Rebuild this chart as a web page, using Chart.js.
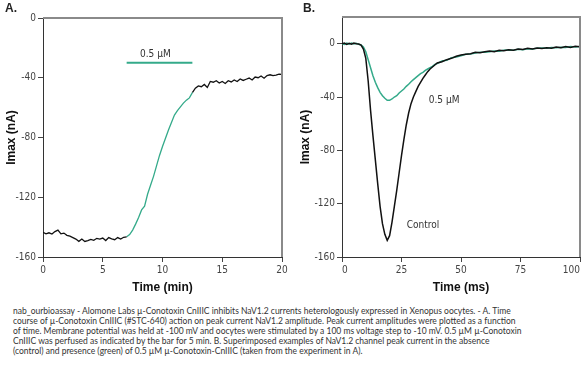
<!DOCTYPE html>
<html>
<head>
<meta charset="utf-8">
<script src="https://cdn.jsdelivr.net/npm/chart.js@4.4.1/dist/chart.umd.min.js"></script>
<style>
    body { margin: 0; background: #fff; width: 583px; height: 368px; position: relative; overflow: hidden; }
    .panel { position: absolute; top: 0; height: 296px; }
    .tag { position: absolute; top: 1px; font: bold 12px Arial, 'Liberation Sans', sans-serif; color: #222; }
    #caption { position: absolute; left: 13px; top: 307px; font: 8.5px Lato, sans-serif; line-height: 9.9px; color: #333; white-space: nowrap; }
</style>
</head>
<body>
<div class="panel" style="left:0;width:290px"><canvas id="graph"></canvas></div>
<div class="panel" style="left:290px;width:293px"><canvas id="graph_2"></canvas></div>
<div class="tag" style="left:5px">A.</div>
<div class="tag" style="left:303px">B.</div>
<div id="caption">
nab_ourbioassay - Alomone Labs µ-Conotoxin CnIIIC inhibits NaV1.2 currents heterologously expressed in Xenopus oocytes. - A. Time<br>
course of µ-Conotoxin CnIIIC (#STC-640) action on peak current NaV1.2 amplitude. Peak current amplitudes were plotted as a function<br>
of time. Membrane potential was held at -100 mV and oocytes were stimulated by a 100 ms voltage step to -10 mV. 0.5 µM µ-Conotoxin<br>
CnIIIC was perfused as indicated by the bar for 5 min. B. Superimposed examples of NaV1.2 channel peak current in the absence<br>
(control) and presence (green) of 0.5 µM µ-Conotoxin-CnIIIC (taken from the experiment in A).
</div>
<script>
// Panel A: peak current vs time (min)
const timeBefore = [0, 0.25, 0.5, 0.75, 1, 1.25, 1.5, 1.75, 2, 2.25, 2.5, 2.75, 3, 3.25, 3.5, 3.75, 4, 4.25, 4.5, 4.75, 5, 5.25, 5.5, 5.75, 6, 6.25, 6.5, 6.75, 7];
const imaxBefore = [-143.5, -144.5, -143.8, -144.6, -143, -142, -144.5, -144, -145.5, -146, -147, -148, -149.5, -148, -149.6, -149, -148.2, -148.8, -147.5, -148, -147.3, -149, -147, -147.8, -148.4, -147, -148, -146.8, -146.5];
const timeToxin = [7, 7.25, 7.5, 7.75, 8, 8.25, 8.5, 8.75, 9, 9.25, 9.5, 9.75, 10, 10.25, 10.5, 10.75, 11, 11.25, 11.5, 11.75, 12, 12.25, 12.5];
const imaxToxin = [-146.5, -145, -142, -138, -133.5, -128.5, -126, -118, -112, -106, -99, -92, -86, -80.5, -75, -70, -65, -62, -59.5, -57, -55, -53.5, -50];
const timeAfter = [12.5, 12.75, 13, 13.25, 13.5, 13.75, 14, 14.25, 14.5, 14.75, 15, 15.25, 15.5, 15.75, 16, 16.25, 16.5, 16.75, 17, 17.25, 17.5, 17.75, 18, 18.25, 18.5, 18.75, 19, 19.25, 19.5, 19.75, 20];
const imaxAfter = [-50, -47, -45.5, -46, -44.5, -46.5, -42.5, -43, -42, -43.5, -42.5, -43.8, -42, -42.8, -41.5, -42.5, -40.8, -41.8, -41, -40.2, -41.5, -39.5, -40, -38.8, -40.3, -38.5, -38, -38.6, -38.2, -37.6, -37.8];
const perfusionBar = [7, 12.5];
const perfusionLevel = -30;
const xTicksA = [0, 5, 10, 15, 20];
const yTicksA = [-160, -120, -80, -40, 0];

// Panel B: current traces vs time (ms)
const traceTime = [0, 1, 2, 3, 4, 5, 6, 7, 8, 9, 10, 11, 12, 13, 14, 15, 16, 17, 18, 19, 20, 21, 22, 23, 24, 25, 26, 27, 28, 29, 30, 31, 32, 33, 34, 35, 36, 37, 38, 39, 40,
    42, 44, 46, 48, 50, 52, 54, 56, 58, 60, 62, 64, 66, 68, 70, 72, 74, 76, 78, 80, 82, 84, 86, 88, 90, 92, 94, 96, 98, 100];
const controlTrace = [0, 0.5, -0.5, 0.3, -0.4, 0.5, 0, -0.3, -1, -4, -11, -28, -50, -69, -87, -105, -122, -135, -143, -147.5, -144, -134, -122, -110, -97, -84, -72, -61, -52, -45, -40, -36, -32, -29, -26, -23.5, -21, -19, -17.5, -16, -14.5,
    -13.5, -12, -11, -9.5, -8.5, -8, -7.5, -6.5, -6.8, -6, -5.5, -6, -5, -5.3, -4.5, -5, -4, -4.4, -3.5, -4, -3.2, -3.6, -3, -3.4, -2.5, -3, -2.2, -2.8, -2, -2.4];
const toxinTrace = [0, -0.5, 0.4, -0.3, 0.5, -0.2, 0.3, -0.5, -1, -2.5, -6, -12, -18, -24, -29, -33, -36.5, -39, -41, -42.5, -42.5, -41.5, -40, -39, -37, -35.5, -34, -32, -30.5, -28.5, -27, -25.5, -24, -22.5, -21.5, -20, -19, -18, -17, -15.5, -15,
    -13, -12.5, -10.5, -10, -9, -8, -7.8, -7, -6.5, -6.5, -6, -5.5, -5.6, -5, -4.8, -5, -4.2, -4.5, -3.8, -4, -3.5, -3.2, -3.5, -2.8, -3, -2.6, -2.8, -2.2, -2.5, -2.2];
const xTicksB = [0, 25, 50, 75, 100];
const yTicksB = [-160, -120, -80, -40, 0];

const labelsA = [{ text: '0.5 µM', x: 9.4, y: -24.5 }];
const labelsB = [{ text: '0.5 µM', x: 42.9, y: -42.6 }, { text: 'Control', x: 34, y: -136.6 }];

const green = 'rgb(52,170,138)';
const tickFont = { family: "'Liberation Sans Narrow', 'Arial Narrow', 'DejaVu Sans Condensed', sans-serif", size: 10 };
const titleFont = { family: "Arial, 'Liberation Sans', sans-serif", size: 12, weight: 'bold' };

function pairs(xs, ys) {
    return xs.map((x, i) => ({ x: x, y: ys[i] }));
}

// Gray frame on top and right, plus text annotations
const framePlugin = {
    id: 'frame',
    afterDraw(chart, args, opts) {
        const { ctx, chartArea: a, scales } = chart;
        ctx.save();
        ctx.strokeStyle = '#8a8a8a';
        ctx.lineWidth = 2;
        ctx.beginPath();
        ctx.moveTo(a.left, a.top);
        ctx.lineTo(a.right, a.top);
        ctx.lineTo(a.right, a.bottom);
        ctx.stroke();
        ctx.fillStyle = '#333';
        ctx.font = "10px 'Liberation Sans Narrow', 'Arial Narrow', 'DejaVu Sans Condensed', sans-serif";
        ctx.textAlign = 'center';
        ctx.textBaseline = 'middle';
        (opts.labels || []).forEach(l => {
            ctx.fillText(l.text, scales.x.getPixelForValue(l.x), scales.y.getPixelForValue(l.y));
        });
        ctx.restore();
    }
};

function axisOptions(xTicks, yTicks, xTitle, yWidth, yTitlePad, xMin, xMax, yMin, yMax, xAlign) {
    return {
        x: {
            type: 'linear',
            min: xMin,
            max: xMax,
            afterBuildTicks: s => { s.ticks = xTicks.map(v => ({ value: v })); },
            afterFit: s => { s.height = 39; s.paddingLeft = 0; s.paddingRight = 0; },
            grid: { drawOnChartArea: false, drawTicks: true, tickLength: 5, color: '#444' },
            border: { color: '#333', width: 1 },
            ticks: { font: tickFont, color: '#444', padding: 2, maxRotation: 0, align: xAlign },
            title: { display: true, text: xTitle, font: titleFont, color: '#111', padding: { top: 0, bottom: 1 } }
        },
        y: {
            min: yMin,
            max: yMax,
            afterBuildTicks: s => { s.ticks = yTicks.map(v => ({ value: v })); },
            afterFit: s => { s.width = yWidth; s.paddingTop = 0; s.paddingBottom = 0; },
            grid: { drawOnChartArea: false, drawTicks: true, tickLength: 5, color: '#444' },
            border: { color: '#333', width: 1 },
            ticks: { font: tickFont, color: '#444', padding: 2 },
            title: { display: true, text: 'Imax (nA)', font: titleFont, color: '#111', padding: { top: yTitlePad, bottom: 0 } }
        }
    };
}

Chart.defaults.animation = false;

new Chart(document.getElementById('graph'), {
    type: 'line',
    data: {
        datasets: [
            { data: pairs(timeBefore, imaxBefore), borderColor: '#111' },
            { data: pairs(timeToxin, imaxToxin), borderColor: green },
            { data: pairs(timeAfter, imaxAfter), borderColor: '#111' },
            { data: pairs(perfusionBar, [perfusionLevel, perfusionLevel]), borderColor: green, borderWidth: 2 }
        ]
    },
    options: {
        responsive: true,
        maintainAspectRatio: false,
        layout: { padding: { top: 18, right: 8, left: 0, bottom: 0 } },
        elements: { point: { radius: 0 }, line: { borderWidth: 1.3, tension: 0 } },
        plugins: { legend: { display: false }, tooltip: { enabled: false }, frame: { labels: labelsA } },
        scales: axisOptions(xTicksA, yTicksA, 'Time (min)', 43, 4, 0, 20, -160, 0, 'center')
    },
    plugins: [framePlugin]
});

new Chart(document.getElementById('graph_2'), {
    type: 'line',
    data: {
        datasets: [
            { data: pairs(traceTime, controlTrace), borderColor: '#111' },
            { data: pairs(traceTime, toxinTrace), borderColor: green }
        ]
    },
    options: {
        responsive: true,
        maintainAspectRatio: false,
        layout: { padding: { top: 17, right: 3, left: 0, bottom: 0 } },
        elements: { point: { radius: 0 }, line: { borderWidth: 1.5, tension: 0 } },
        plugins: { legend: { display: false }, tooltip: { enabled: false }, frame: { labels: labelsB } },
        scales: axisOptions(xTicksB, yTicksB, 'Time (ms)', 52, 8, 0, 100, -160, 20, 'inner')
    },
    plugins: [framePlugin]
});
</script>
</body>
</html>
